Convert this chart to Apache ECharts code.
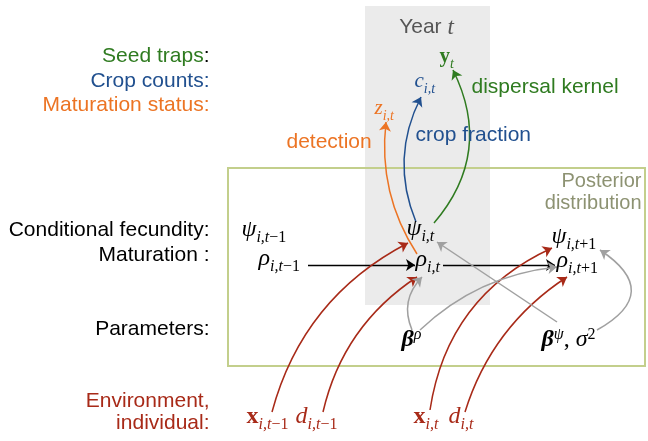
<!DOCTYPE html>
<html>
<head>
<meta charset="utf-8">
<script src="https://cdn.jsdelivr.net/npm/echarts@6/dist/echarts.min.js"></script>
<style>
html, body { margin: 0; padding: 0; background: #fff; }
#main { width: 648px; height: 441px; }
</style>
</head>
<body>
<div id="main"></div>
<script>
// row labels on the left (right aligned)
var rowText = ["{g|Seed traps}{k|:}", "{b|Crop counts:}", "{o|Maturation status:}", "{k|Conditional fecundity:}",
    "{k|Maturation :}", "{k|Parameters:}", "{r|Environment,}", "{r|individual:}"]
var rowY = [57, 82, 106, 231, 256, 330, 402, 424]

// model nodes
var nodeText = [
    "{m|ψ}{s|i,t}{n|−1}",
    "{m|ρ}{s|i,t}{n|−1}",
    "{m|ψ}{s|i,t}",
    "{m|ρ}{s|i,t}",
    "{m|ψ}{s|i,t}{n|+1}",
    "{m|ρ}{s|i,t}{n|+1}",
    "{bi|β}{p|ρ}",
    "{bi|β}{p|ψ}{u|, }{m|σ}{q|2}",
    "{b|x}{s|i,t}{n|−1}",
    "{m|d}{s|i,t}{n|−1}",
    "{b|x}{s|i,t}",
    "{m|d}{s|i,t}",
    "{b|y}{s|t}",
    "{m|c}{s|i,t}",
    "{m|z}{s|i,t}"
]
var nodeX = [242, 259, 407, 416, 552, 557, 402, 542, 247, 296, 414, 449, 440, 415, 375]
var nodeY = [230, 259, 229, 260, 237, 261, 340, 340, 417, 417, 417, 417, 57, 82, 109]
var nodeKind = ["k", "k", "k", "k", "k", "k", "k", "k", "r", "r", "r", "r", "g", "b", "o"]

// process notes
var noteText = ["Year {t|t}", "dispersal kernel", "crop fraction", "detection", "Posterior", "distribution"]
var noteX = [427, 472, 416, 287, 642, 642]
var noteY = [28, 88, 136, 143, 182, 204]
var noteKind = ["year", "g", "b", "o", "post", "post"]

// arrows: from, to, bend
var arrowFrom = [[308, 265], [443, 265],
    [417, 254], [416, 222], [434, 223],
    [272, 412], [323, 412], [430, 410], [465, 412],
    [412, 330], [420, 330], [557, 322], [597, 330]]
var arrowTo = [[415, 265], [555, 265],
    [386, 122], [421, 97], [453, 70],
    [408, 243], [417, 277], [552, 248], [567, 277],
    [422, 277], [557, 267], [437, 242], [600, 250]]
var arrowBend = [0, 0, 0.18, 0.23, -0.33, 0.22, 0.2, 0.27, 0.18, 0.33, 0.17, 0, -0.82]
var arrowKind = ["k", "k", "o", "b", "g", "r", "r", "r", "r", "a", "a", "a", "a"]

// boxes: year t column and posterior
var yearBox = [[365, 6], [490, 305]]
var postBox = [[228, 168], [645, 366]]

var colors = {
    k: "#000000", r: "#a82a18", g: "#2f7b20", b: "#21508f", o: "#ec7424",
    a: "#a0a0a0", year: "#555555", post: "#8d9272"
}
var sans = "Liberation Sans"
var serif = "Liberation Serif"
var hidden = { color: "rgba(0,0,0,0)", opacity: 1 }

function mathRich(color, size) {
    var sub = Math.round(size * 0.68)
    var down = Math.round(size * 0.72)
    var up = Math.round(size * 0.36)
    return {
        m: { fontFamily: serif, fontStyle: "italic", fontSize: size, color: color },
        b: { fontFamily: serif, fontWeight: "bold", fontSize: size, color: color },
        bi: { fontFamily: serif, fontStyle: "italic", fontWeight: "bold", fontSize: size, color: color },
        u: { fontFamily: serif, fontSize: size, color: color },
        s: { fontFamily: serif, fontStyle: "italic", fontSize: sub, color: color, padding: [down, 0, 0, 0] },
        n: { fontFamily: serif, fontSize: sub, color: color, padding: [down, 0, 0, 0] },
        p: { fontFamily: serif, fontStyle: "italic", fontSize: sub, color: color, padding: [0, 0, up, 0] },
        q: { fontFamily: serif, fontSize: sub, color: color, padding: [0, 0, up, 0] }
    }
}

var series = []

// boxes behind everything
series.push({
    type: "scatter",
    z: 1,
    silent: true,
    symbolSize: 1,
    itemStyle: hidden,
    data: [[0, 0]],
    markArea: {
        silent: true,
        label: { show: false },
        data: [
            [{ coord: yearBox[0], itemStyle: { color: "#ebebeb", opacity: 1 } }, { coord: yearBox[1] }],
            [{ coord: postBox[0], itemStyle: { color: "rgba(0,0,0,0)", borderColor: "#c3cf8c", borderWidth: 2, opacity: 1 } }, { coord: postBox[1] }]
        ]
    }
})

// arrows
series.push({
    type: "lines",
    coordinateSystem: "cartesian2d",
    z: 3,
    silent: true,
    symbol: ["none", "arrow"],
    symbolSize: [6, 9],
    data: arrowFrom.map(function (p, i) {
        return {
            coords: [p, arrowTo[i]],
            lineStyle: {
                color: colors[arrowKind[i]],
                width: arrowKind[i] === "k" ? 1.3 : 1.5,
                curveness: arrowBend[i],
                opacity: 1
            }
        }
    })
})

// row labels
var rowRich = {}
;["k", "g", "b", "o", "r"].forEach(function (c) {
    rowRich[c] = { fontFamily: sans, fontSize: 21, color: colors[c] }
})
series.push({
    type: "scatter",
    z: 4,
    silent: true,
    symbolSize: 1,
    itemStyle: hidden,
    label: {
        show: true,
        opacity: 1,
        position: [0, 0],
        align: "right",
        verticalAlign: "middle",
        formatter: function (p) { return rowText[p.dataIndex] },
        rich: rowRich
    },
    data: rowY.map(function (y) { return [210, y] })
})

// math nodes, one series per colour
;["k", "r", "g", "b", "o"].forEach(function (kind) {
    var idx = []
    nodeKind.forEach(function (k, i) { if (k === kind) idx.push(i) })
    var size = (kind === "g" || kind === "b" || kind === "o") ? 21 : 24
    series.push({
        type: "scatter",
        z: 5,
        silent: true,
        symbolSize: 1,
        itemStyle: hidden,
        label: {
            show: true,
            opacity: 1,
            position: [0, 0],
            align: "left",
            verticalAlign: "middle",
            color: colors[kind],
            formatter: function (p) { return nodeText[idx[p.dataIndex]] },
            rich: mathRich(colors[kind], size)
        },
        data: idx.map(function (i) { return [nodeX[i], nodeY[i]] })
    })
})

// notes
series.push({
    type: "scatter",
    z: 5,
    silent: true,
    symbolSize: 1,
    itemStyle: hidden,
    data: noteText.map(function (t, i) {
        var kind = noteKind[i]
        return {
            value: [noteX[i], noteY[i]],
            label: {
                show: true,
                opacity: 1,
                position: [0, 0],
                align: kind === "year" ? "center" : (kind === "post" ? "right" : "left"),
                verticalAlign: "middle",
                fontFamily: sans,
                fontSize: kind === "post" ? 20 : 21,
                color: colors[kind],
                formatter: t,
                rich: { t: { fontFamily: serif, fontStyle: "italic", fontSize: 23, color: colors[kind] } }
            }
        }
    })
})

var chart = echarts.init(document.getElementById("main"))
chart.setOption({
    animation: false,
    backgroundColor: "#ffffff",
    grid: { left: 0, right: 0, top: 0, bottom: 0 },
    xAxis: { type: "value", min: 0, max: 648, show: false },
    yAxis: { type: "value", min: 0, max: 441, inverse: true, show: false },
    series: series
})
</script>
</body>
</html>
